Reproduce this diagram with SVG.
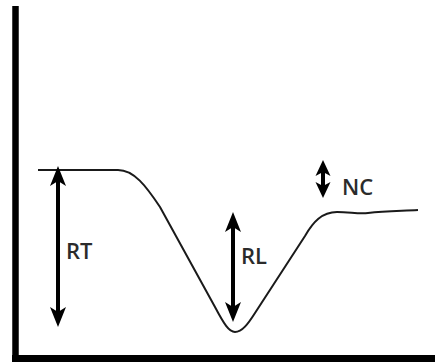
<svg xmlns="http://www.w3.org/2000/svg" width="435" height="363" viewBox="0 0 435 363">
<style>
.axis{stroke:#000;fill:none}
.curve{stroke:#1a1a1a;stroke-width:2;fill:none;stroke-linejoin:round}
.arr{stroke:#000;stroke-width:4;fill:none}
.lbl{font-family:"Open Sans",Lato,sans-serif;font-size:22px;fill:#2b2b2b}
</style>
<defs>
<marker id="ah" markerUnits="userSpaceOnUse" viewBox="-20 -8 20 16" markerWidth="20" markerHeight="16" refX="-12" refY="0" orient="auto-start-reverse">
<path d="M0,0 L-20,-8 L-15,0 L-20,8 Z" fill="#000"/>
</marker>
<marker id="ahs" markerUnits="userSpaceOnUse" viewBox="-16 -8 16 16" markerWidth="16" markerHeight="16" refX="-9" refY="0" orient="auto-start-reverse">
<path d="M0,0 L-16,-7.5 L-12,0 L-16,7.5 Z" fill="#000"/>
</marker>
</defs>
<rect width="435" height="363" fill="#fff"/>
<g id="axes">
<line class="axis" x1="15.5" y1="6" x2="15.5" y2="361" stroke-width="6.5"/>
<line class="axis" x1="12" y1="358.5" x2="435" y2="358.5" stroke-width="7"/>
</g>
<g id="curve">
<path class="curve" d="M38,170 L118,170 C134,170 146,186 160,207 L215,307 C224,324 229,332 235,332 C242,332 248,324 255,313 L305,236 C313,222 322,212 337,212 C350,212 358,214 368,213 C385,211 400,211 418,210"/>
</g>
<g id="connectors">
<line class="arr" x1="58" y1="178" x2="58" y2="315" marker-start="url(#ah)" marker-end="url(#ah)"/>
<line class="arr" x1="233" y1="224" x2="233" y2="310" marker-start="url(#ah)" marker-end="url(#ah)"/>
<line class="arr" x1="323" y1="169" x2="323" y2="189" marker-start="url(#ahs)" marker-end="url(#ahs)"/>
</g>
<g id="label-RT"><text class="lbl" x="66" y="259" font-weight="600">RT</text></g>
<g id="label-RL"><text class="lbl" x="241" y="264" font-weight="600">RL</text></g>
<g id="label-NC"><text class="lbl" x="342" y="195" font-weight="600">NC</text></g>
</svg>
